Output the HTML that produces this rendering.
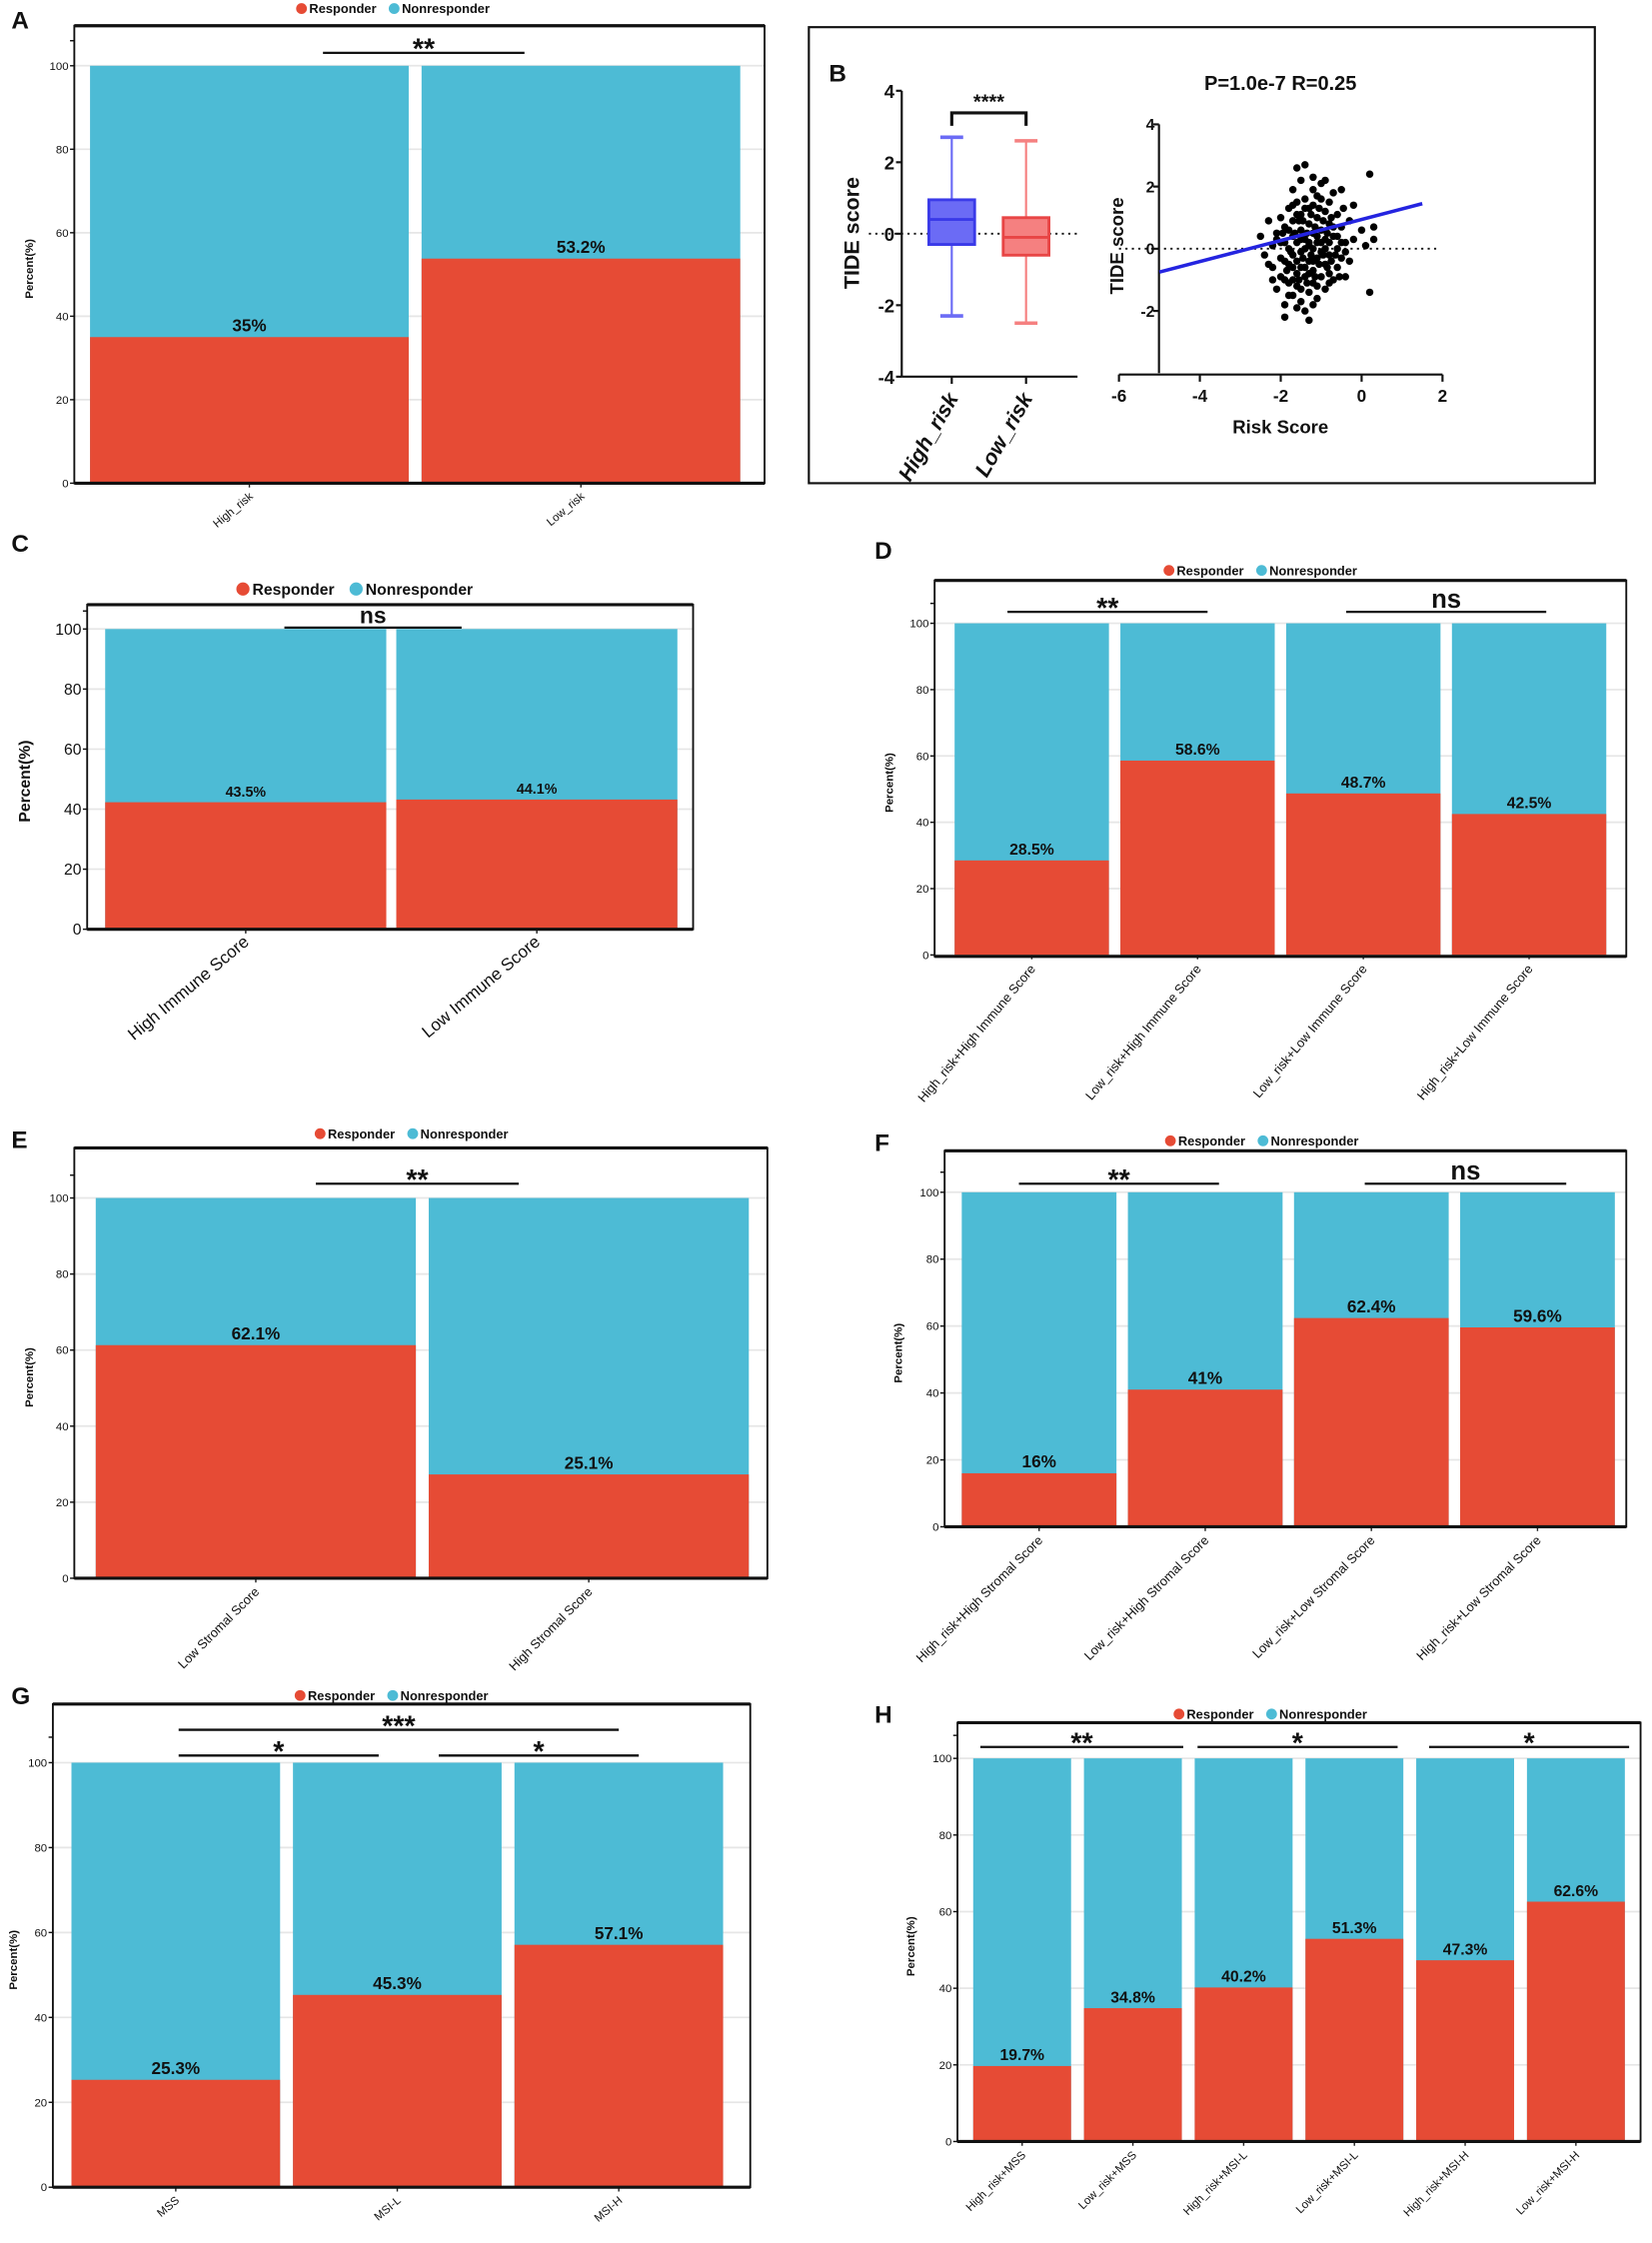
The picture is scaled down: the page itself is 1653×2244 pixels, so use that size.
<!DOCTYPE html>
<html><head><meta charset="utf-8"><style>
html,body{margin:0;padding:0;background:#fff;}
svg{display:block;font-family:"Liberation Sans",Arial,sans-serif;}
</style></head><body>
<svg id="fig" xmlns="http://www.w3.org/2000/svg" width="1653" height="2244" viewBox="0 0 1156 1569" preserveAspectRatio="none"></svg>
<script>
// ---- data ----
const catsA = ["High_risk","Low_risk"];
const respA = [35, 53.8];
const lblA = ["35%","53.2%"];
const catsC = ["High Immune Score","Low Immune Score"];
const respC = [42.3, 43.2];
const lblC = ["43.5%","44.1%"];
const catsD = ["High_risk+High Immune Score","Low_risk+High Immune Score","Low_risk+Low Immune Score","High_risk+Low Immune Score"];
const respD = [28.5, 58.6, 48.7, 42.5];
const lblD = ["28.5%","58.6%","48.7%","42.5%"];
const catsE = ["Low Stromal Score","High Stromal Score"];
const respE = [61.3, 27.3];
const lblE = ["62.1%","25.1%"];
const catsF = ["High_risk+High Stromal Score","Low_risk+High Stromal Score","Low_risk+Low Stromal Score","High_risk+Low Stromal Score"];
const respF = [16, 41, 62.4, 59.6];
const lblF = ["16%","41%","62.4%","59.6%"];
const catsG = ["MSS","MSI-L","MSI-H"];
const respG = [25.3, 45.3, 57.1];
const lblG = ["25.3%","45.3%","57.1%"];
const catsH = ["High_risk+MSS","Low_risk+MSS","High_risk+MSI-L","Low_risk+MSI-L","High_risk+MSI-H","Low_risk+MSI-H"];
const respH = [19.7, 34.8, 40.2, 52.9, 47.3, 62.6];
const lblH = ["19.7%","34.8%","40.2%","51.3%","47.3%","62.6%"];
const pctTicks = [0,20,40,60,80,100];
// box plot (B)
const boxCats = ["High_risk","Low_risk"];
const boxQ1 = [-0.3,-0.6];
const boxMed = [0.4,-0.1];
const boxQ3 = [0.95,0.45];
const boxMin = [-2.3,-2.5];
const boxMax = [2.7,2.6];
const boxTicks = [-4,-2,0,2,4];
// scatter (B)
const scatX = [-2.5,-2.4,-2.3,-2.2,-2.2,-2.1,-2.1,-2.0,-2.0,-2.0,-1.9,-1.9,-1.9,-1.9,-1.8,-1.8,-1.8,-1.8,-1.7,-1.7,-1.7,-1.7,-1.7,-1.6,-1.6,-1.6,-1.6,-1.6,-1.5,-1.5,-1.5,-1.5,-1.5,-1.5,-1.4,-1.4,-1.4,-1.4,-1.4,-1.4,-1.3,-1.3,-1.3,-1.3,-1.3,-1.3,-1.2,-1.2,-1.2,-1.2,-1.2,-1.1,-1.1,-1.1,-1.1,-1.1,-1.0,-1.0,-1.0,-1.0,-0.9,-0.9,-0.9,-0.9,-0.9,-0.8,-0.8,-0.8,-0.8,-0.7,-0.7,-0.7,-0.6,-0.6,-0.6,-0.5,-0.5,-0.5,-0.4,-0.4,-0.3,-0.3,-0.2,-0.2,0.0,0.1,0.2,0.2,0.3,0.3,
-2.3,-2.1,-2.0,-1.95,-1.9,-1.85,-1.8,-1.75,-1.7,-1.65,-1.6,-1.55,-1.55,-1.5,-1.45,-1.45,-1.4,-1.35,-1.35,-1.3,-1.25,-1.25,-1.2,-1.2,-1.15,-1.15,-1.1,-1.05,-1.05,-1.0,-0.95,-0.95,-0.9,-0.85,-0.85,-0.8,-0.75,-0.75,-0.7,-0.65,-0.6,-0.55,-0.5,-0.45,-0.4,-1.6,-1.4,-1.2,-1.0,-1.7,-1.9,-1.7,-1.5,-1.3,-1.1,-0.8,-2.2,-1.8,-1.6,-1.2];
const scatY = [0.4,-0.2,0.9,-0.6,0.1,-1.3,0.5,-0.9,0.2,1.0,-0.4,-1.8,0.7,-2.2,0.0,-1.1,1.3,-0.5,0.4,-1.5,1.9,-0.2,0.9,-0.8,0.2,1.5,-1.2,2.6,-0.1,0.6,-1.7,1.1,-0.6,2.2,0.3,-0.9,1.6,-2.0,0.0,2.7,-0.4,0.8,-1.4,1.3,0.1,-2.3,0.5,-0.7,1.9,-1.1,2.3,0.2,-0.3,1.0,-1.6,1.7,0.6,-0.9,2.1,-0.1,1.2,-0.5,0.3,-1.3,2.2,0.8,-0.2,1.5,-0.8,0.4,-1.0,1.8,0.0,1.1,-0.6,0.7,-0.3,1.9,0.2,-0.9,0.9,-0.4,1.4,0.3,0.6,0.1,-1.4,2.4,0.7,0.3,
-0.5,0.3,-0.3,0.5,0.2,-0.7,0.6,-0.1,-0.6,0.5,-0.4,0.9,-1.0,0.3,-0.3,0.9,-0.6,0.5,-1.1,0.2,-0.2,1.1,0.0,-0.4,0.7,-0.9,0.4,-0.5,1.3,0.2,-0.2,0.9,0.0,0.5,-0.6,0.2,1.0,-0.4,0.7,-0.2,0.4,-0.9,0.2,1.3,-0.1,1.1,1.3,1.4,1.6,1.4,-1.0,-1.0,-1.3,-0.8,-1.2,-1.1,-1.0,-1.5,-1.9,-1.8];
const fitX = [-5, 1.5];
const fitY = [-0.75, 1.45];
const scatXTicks = [-6,-4,-2,0,2];
const scatYTicks = [-2,0,2,4];

const RED = "#E64B35", BLUE = "#4DBBD5";
const NS = "http://www.w3.org/2000/svg";
const svg = document.getElementById("fig");
function el(tag, attrs, parent, text) {
  const e = document.createElementNS(NS, tag);
  for (const k in attrs) e.setAttribute(k, attrs[k]);
  if (text !== undefined) e.textContent = text;
  (parent || svg).appendChild(e);
  return e;
}

function stacked(name, cats, resp, lbls, o) {
  const g = el("g", {});
  
  
  const [fx0, fy0, fx1, fy1] = o.frame;
  const yS = v => o.y0 - (o.y0 - o.y100) * v / 100;
  pctTicks.forEach(t => {
    const gl = el("line", {x1: fx0, x2: fx1, y1: yS(t), y2: yS(t), stroke: "#e6e6e6", "stroke-width": 1.2}, g);
    
    
  });
  const n = cats.length;
  const band = (o.barR - o.barL + o.gap) / n;
  const bw = band - o.gap;
  cats.forEach((c, i) => {
    const x = o.barL + i * band;
    const nr = el("rect", {x: x, y: yS(100), width: bw, height: yS(0) - yS(100), fill: BLUE}, g);
    
    
    const r = el("rect", {x: x, y: yS(resp[i]), width: bw, height: yS(0) - yS(resp[i]), fill: RED}, g);
    
    
    const vl = el("text", {x: x + bw / 2, y: yS(resp[i]) - 4, "text-anchor": "middle", "font-size": o.vf, "font-weight": "bold", fill: "#111"}, g, lbls[i]);
    
    
    const cx = x + bw / 2;
    el("line", {x1: cx, x2: cx, y1: o.y0, y2: o.y0 + 3, stroke: "#222", "stroke-width": 1}, g);
    const xl = el("text", {x: cx + 3, y: o.y0 + 10, "text-anchor": "end", "font-size": o.xf, fill: "#111", transform: `rotate(${o.rot} ${cx + 3} ${o.y0 + 10})`}, g, c);
    
    
  });
  const fr = el("rect", {x: fx0, y: fy0, width: fx1 - fx0, height: fy1 - fy0, fill: "none", stroke: "#111", "stroke-width": 1.3}, g);
  
  
  el("line", {x1: fx0, x2: fx1, y1: fy0, y2: fy0, stroke: "#111", "stroke-width": 2.2}, g);
  el("line", {x1: fx0, x2: fx1, y1: fy1, y2: fy1, stroke: "#111", "stroke-width": 2.2}, g);
  pctTicks.forEach(t => {
    el("line", {x1: fx0 - 3, x2: fx0, y1: yS(t), y2: yS(t), stroke: "#111", "stroke-width": 1}, g);
    const tl = el("text", {x: fx0 - 4, y: yS(t) + o.yf * 0.35, "text-anchor": "end", "font-size": o.yf, fill: "#111"}, g, String(t));
    
    
  });
  el("line", {x1: fx0 - 3, x2: fx0, y1: yS(106), y2: yS(106), stroke: "#111", "stroke-width": 1}, g);
  const yt = el("text", {x: o.ytx, y: (fy0 + fy1) / 2 + 10, "text-anchor": "middle", "font-size": o.ytf, "font-weight": "bold", fill: "#111", transform: `rotate(-90 ${o.ytx} ${(fy0 + fy1) / 2 + 10})`}, g, "Percent(%)");
  
  
  const [lx, ly, lf] = o.legend;
  const lg = el("g", {}, g);
  
  
  el("circle", {cx: lx, cy: ly, r: lf * 0.42, fill: RED}, lg);
  const t1 = el("text", {x: lx + lf * 0.6, y: ly + lf * 0.36, "font-size": lf, "font-weight": "bold", fill: "#111"}, lg, "Responder");
  
  
  const bx = lx + lf * 7.2;
  el("circle", {cx: bx, cy: ly, r: lf * 0.42, fill: BLUE}, lg);
  const t2 = el("text", {x: bx + lf * 0.6, y: ly + lf * 0.36, "font-size": lf, "font-weight": "bold", fill: "#111"}, lg, "Nonresponder");
  
  
  o.sig.forEach(s => {
    const sl = el("line", {x1: s[0], x2: s[1], y1: s[2], y2: s[2], stroke: "#111", "stroke-width": 1.6}, g);
    
    
    const st = el("text", {x: (s[0] + s[1]) / 2, y: s[2] + (s[3] === "ns" ? -3 : 4), "text-anchor": "middle", "font-size": s[4], "font-weight": "bold", fill: "#111"}, g, s[3]);
    
    
  });
  const pl = el("text", {x: o.letter[0], y: o.letter[1], "font-size": 17, "font-weight": "bold", fill: "#111"}, g, o.letter[2]);
  
  
}

stacked("panel-a", catsA, respA, lblA, {frame: [52, 18, 535, 338], y100: 46, y0: 338, barL: 63, barR: 518, gap: 9, vf: 12, xf: 8, yf: 8, rot: -40, ytx: 23, ytf: 8, legend: [211, 6, 9], sig: [[226, 367, 37, "**", 20]], letter: [8, 20, "A"]});
stacked("panel-c", catsC, respC, lblC, {frame: [61, 423, 485, 650], y100: 440, y0: 650, barL: 73.6, barR: 474, gap: 7, vf: 10, xf: 12, yf: 11, rot: -40, ytx: 21, ytf: 11, legend: [170, 412, 11], sig: [[199, 323, 439, "ns", 16]], letter: [8, 386, "C"]});
stacked("panel-d", catsD, respD, lblD, {frame: [654, 406, 1138, 669], y100: 436, y0: 668, barL: 668, barR: 1124, gap: 8, vf: 11, xf: 9, yf: 8, rot: -50, ytx: 625, ytf: 8, legend: [818, 399, 9], sig: [[705, 845, 428, "**", 20], [942, 1082, 428, "ns", 18]], letter: [612, 391, "D"]});
stacked("panel-e", catsE, respE, lblE, {frame: [52, 803, 537, 1104], y100: 838, y0: 1104, barL: 67, barR: 524, gap: 9, vf: 12, xf: 9, yf: 8, rot: -45, ytx: 23, ytf: 8, legend: [224, 793, 9], sig: [[221, 363, 828, "**", 20]], letter: [8, 803, "E"]});
stacked("panel-f", catsF, respF, lblF, {frame: [661, 805, 1138, 1068], y100: 834, y0: 1068, barL: 673, barR: 1130, gap: 8, vf: 12, xf: 9, yf: 8, rot: -45, ytx: 631, ytf: 8, legend: [819, 798, 9], sig: [[713, 853, 828, "**", 20], [955, 1096, 828, "ns", 18]], letter: [612, 805, "F"]});
stacked("panel-g", catsG, respG, lblG, {frame: [37, 1192, 525, 1530], y100: 1233, y0: 1530, barL: 50, barR: 506, gap: 9, vf: 12, xf: 8, yf: 8, rot: -40, ytx: 12, ytf: 8, legend: [210, 1186, 9], sig: [[125, 433, 1210, "***", 20], [125, 265, 1228, "*", 20], [307, 447, 1228, "*", 20]], letter: [8, 1192, "G"]});
stacked("panel-h", catsH, respH, lblH, {frame: [670, 1205, 1148, 1498], y100: 1230, y0: 1498, barL: 681, barR: 1137, gap: 9, vf: 11, xf: 8, yf: 8, rot: -45, ytx: 640, ytf: 8, legend: [825, 1199, 9], sig: [[686, 828, 1222, "**", 20], [838, 978, 1222, "*", 20], [1000, 1140, 1222, "*", 20]], letter: [612, 1205, "H"]});

// ---- Panel B ----
(function () {
  const g = el("g", {});
  
  
  const fr = el("rect", {x: 566, y: 19, width: 550, height: 319, fill: "none", stroke: "#111", "stroke-width": 1.5}, g);
  
  
  const pl = el("text", {x: 580, y: 57, "font-size": 17, "font-weight": "bold", fill: "#111"}, g, "B");
  
  
  const ax = 631, yb = v => 163.5 - v * 25;
  const xc = [666, 718];
  el("line", {x1: ax, x2: ax, y1: yb(4), y2: yb(-4), stroke: "#111", "stroke-width": 1.5}, g);
  el("line", {x1: ax, x2: 754, y1: yb(-4), y2: yb(-4), stroke: "#111", "stroke-width": 1.5}, g);
  boxTicks.forEach(t => {
    el("line", {x1: ax - 4, x2: ax, y1: yb(t), y2: yb(t), stroke: "#111", "stroke-width": 1.5}, g);
    const tl = el("text", {x: ax - 5, y: yb(t) + 5, "text-anchor": "end", "font-size": 13, "font-weight": "bold", fill: "#111"}, g, String(t));
    
    
  });
  el("line", {x1: 608, x2: 754, y1: yb(0), y2: yb(0), stroke: "#111", "stroke-width": 1.3, "stroke-dasharray": "1.5,3"}, g);
  const yt = el("text", {x: 601, y: 163, "text-anchor": "middle", "font-size": 15, "font-weight": "bold", fill: "#111", transform: "rotate(-90 601 163)"}, g, "TIDE score");
  
  
  const cols = [["#6b6bf5", "#3a3ae8"], ["#f58080", "#e84545"]];
  boxCats.forEach((c, i) => {
    const x = xc[i], col = cols[i];
    const bg = el("g", {}, g);
    
    
    el("line", {x1: x, x2: x, y1: yb(boxMax[i]), y2: yb(boxMin[i]), stroke: col[0], "stroke-width": 1.5}, bg);
    el("line", {x1: x - 8, x2: x + 8, y1: yb(boxMax[i]), y2: yb(boxMax[i]), stroke: col[0], "stroke-width": 2.5}, bg);
    el("line", {x1: x - 8, x2: x + 8, y1: yb(boxMin[i]), y2: yb(boxMin[i]), stroke: col[0], "stroke-width": 2.5}, bg);
    el("rect", {x: x - 16, y: yb(boxQ3[i]), width: 32, height: yb(boxQ1[i]) - yb(boxQ3[i]), fill: col[0], stroke: col[1], "stroke-width": 2}, bg);
    el("line", {x1: x - 16, x2: x + 16, y1: yb(boxMed[i]), y2: yb(boxMed[i]), stroke: col[1], "stroke-width": 2}, bg);
    el("line", {x1: x, x2: x, y1: yb(-4), y2: yb(-4) + 5, stroke: "#111", "stroke-width": 1.5}, g);
    const xl = el("text", {x: x + 5, y: yb(-4) + 15, "text-anchor": "end", "font-size": 15, "font-weight": "bold", "font-style": "italic", fill: "#111", transform: `rotate(-60 ${x + 5} ${yb(-4) + 15})`}, g, c);
    
    
  });
  el("path", {d: `M${xc[0]} 88 V79 H${xc[1]} V88`, fill: "none", stroke: "#111", "stroke-width": 2.2}, g);
  const st = el("text", {x: 692, y: 76, "text-anchor": "middle", "font-size": 14, "font-weight": "bold", fill: "#111"}, g, "****");
  
  

  // scatter
  const sx = v => 952.8 + v * 28.3, sy = v => 174 - v * 21.75;
  el("line", {x1: 811, x2: 811, y1: sy(4), y2: sy(-4), stroke: "#111", "stroke-width": 1.5}, g);
  el("line", {x1: sx(-6), x2: sx(2), y1: 262, y2: 262, stroke: "#111", "stroke-width": 1.5}, g);
  scatYTicks.forEach(t => {
    el("line", {x1: 807, x2: 811, y1: sy(t), y2: sy(t), stroke: "#111", "stroke-width": 1.5}, g);
    const tl = el("text", {x: 808, y: sy(t) + 4, "text-anchor": "end", "font-size": 11, "font-weight": "bold", fill: "#111"}, g, String(t));
    
    
  });
  scatXTicks.forEach(t => {
    el("line", {x1: sx(t), x2: sx(t), y1: 262, y2: 267, stroke: "#111", "stroke-width": 1.5}, g);
    const tl = el("text", {x: sx(t), y: 281, "text-anchor": "middle", "font-size": 12, "font-weight": "bold", fill: "#111"}, g, String(t));
    
    
  });
  el("line", {x1: 783, x2: 1007, y1: sy(0), y2: sy(0), stroke: "#111", "stroke-width": 1.3, "stroke-dasharray": "1.5,3"}, g);
  const dots = el("g", {}, g);
  
  
  scatX.forEach((v, i) => {
    const c = el("circle", {cx: sx(v), cy: sy(scatY[i]), r: 2.6, fill: "#000"}, dots);
    
    
  });
  const fl = el("line", {x1: sx(fitX[0]), y1: sy(fitY[0]), x2: sx(fitX[1]), y2: sy(fitY[1]), stroke: "#2424e0", "stroke-width": 2.5}, g);
  
  
  const ti = el("text", {x: 896, y: 63, "text-anchor": "middle", "font-size": 14, "font-weight": "bold", fill: "#111"}, g, "P=1.0e-7 R=0.25");
  
  
  const xt = el("text", {x: 896, y: 303, "text-anchor": "middle", "font-size": 13, "font-weight": "bold", fill: "#111"}, g, "Risk Score");
  
  
  const yt2 = el("text", {x: 786, y: 172, "text-anchor": "middle", "font-size": 13, "font-weight": "bold", fill: "#111", transform: "rotate(-90 786 172)"}, g, "TIDE score");
  
  
})();
</script>
</body></html>
